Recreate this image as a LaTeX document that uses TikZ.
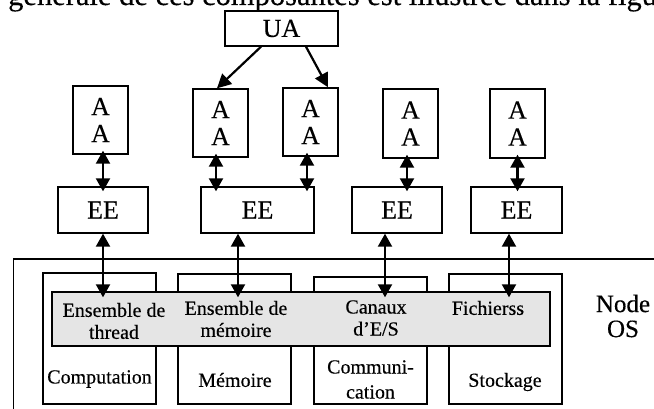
\documentclass[tikz,border=0pt]{standalone}
\usepackage{fontspec}
\setmainfont{Liberation Serif}[FakeBold=0.3]
\usetikzlibrary{arrows.meta,calc}
\begin{document}
\begin{tikzpicture}[x=1pt,y=-1pt,
  box/.style={draw,line width=1.4pt,inner sep=0pt,align=center,font=\fontsize{26}{27}\selectfont},
  sbox/.style={draw,line width=1.4pt,inner sep=0pt},
  lbl/.style={inner sep=0pt,align=center,font=\fontsize{20}{22}\selectfont},
  tip/.style={-{Triangle[length=14pt,width=14pt]},line width=2.2pt},
  dtip/.style={{Triangle[length=13pt,width=14pt]}-{Triangle[length=13pt,width=14pt]},line width=2.2pt}]
\useasboundingbox (0,0) rectangle (654,409);
\begin{scope}
  \clip (0,0) rectangle (654,409);
  \node[anchor=base west,inner sep=0pt,font=\fontsize{30.5}{32}\selectfont] (toptext) at (8,5) {générale de ces composantes est illustrée dans la figure};
  \node[draw,line width=1pt,inner sep=0pt,minimum width=707pt,minimum height=201pt] (os) at (366.5,359.5) {};
\end{scope}
% top unit
\node[box,minimum width=113pt,minimum height=35pt] (ua) at (281.5,28.5) {UA};
% A boxes
\node[box,minimum width=55pt,minimum height=68pt] (a1) at (100.5,120) {A\\A};
\node[box,minimum width=55pt,minimum height=68pt] (a2) at (220.5,123) {A\\A};
\node[box,minimum width=55pt,minimum height=68pt] (a3) at (310.5,122) {A\\A};
\node[box,minimum width=55pt,minimum height=69pt] (a4) at (410.5,123.5) {A\\A};
\node[box,minimum width=55pt,minimum height=69pt] (a5) at (517.5,123.5) {A\\A};
% EE boxes
\node[box,minimum width=90pt,minimum height=46pt] (ee1) at (103,210) {EE};
\node[box,minimum width=113pt,minimum height=46pt] (ee2) at (257.5,210) {EE};
\node[box,minimum width=90pt,minimum height=46pt] (ee3) at (397,210) {EE};
\node[box,minimum width=91pt,minimum height=46pt] (ee4) at (516.5,210) {EE};
% resource boxes
\node[sbox,minimum width=113pt,minimum height=131pt] (comp) at (99.5,338.5) {};
\node[sbox,minimum width=113pt,minimum height=130pt] (mem) at (234.5,339) {};
\node[sbox,minimum width=113pt,minimum height=127pt] (comm) at (370.5,340.5) {};
\node[sbox,minimum width=113pt,minimum height=130pt] (stock) at (505.5,339) {};
% grey bar
\node[sbox,fill=black!10,minimum width=498pt,minimum height=54pt] (bar) at (301,319) {};
\node[lbl] (t1) at (114,321) {Ensemble de\\thread};
\node[lbl] (t2) at (236,319) {Ensemble de\\mémoire};
\node[lbl] (t3) at (376,318) {Canaux\\d’E/S};
\node[lbl] (t4) at (488,308) {Fichierss};
% bottom labels
\node[lbl] (l1) at (99.5,379) {Computation};
\node[lbl] (l2) at (235,380) {Mémoire};
\node[lbl,font=\fontsize{20}{25}\selectfont] (l3) at (370.5,379.5) {Communi-\\cation};
\node[lbl] (l4) at (505,382) {Stockage};
\node[inner sep=0pt,align=center,font=\fontsize{25}{25}\selectfont] (nos) at (623,316) {Node\\OS};
% arrows from UA
\draw[tip] ([xshift=-20.5pt]ua.south) -- ([xshift=-3.5pt]a2.north);
\draw[tip] ([xshift=24.5pt]ua.south) -- ([xshift=17.5pt]a3.north);
% A - EE
\begin{scope}[shorten <=-4pt,shorten >=-5pt]
\draw[dtip] (a1.south -| ee1.north) -- (ee1.north);
\draw[dtip] ([xshift=-4.5pt]a2.south) -- ([xshift=-4.5pt]a2.south |- ee2.north);
\draw[dtip] ([xshift=-3.5pt]a3.south) -- ([xshift=-3.5pt]a3.south |- ee2.north);
\draw[dtip] ([xshift=-3.5pt]a4.south) -- ([xshift=-3.5pt]a4.south |- ee3.north);
\draw[dtip] (a5.south) -- (a5.south |- ee4.north);
\end{scope}
% EE - bar
\draw[dtip,shorten >=-6pt] (ee1.south) -- (ee1.south |- bar.north);
\draw[dtip,shorten >=-6pt] ([xshift=-19.5pt]ee2.south) -- ([xshift=-19.5pt]ee2.south |- bar.north);
\draw[dtip,shorten >=-6pt] ([xshift=-12pt]ee3.south) -- ([xshift=-12pt]ee3.south |- bar.north);
\draw[dtip,shorten >=-6pt] ([xshift=-7.5pt]ee4.south) -- ([xshift=-7.5pt]ee4.south |- bar.north);
\end{tikzpicture}
\end{document}
